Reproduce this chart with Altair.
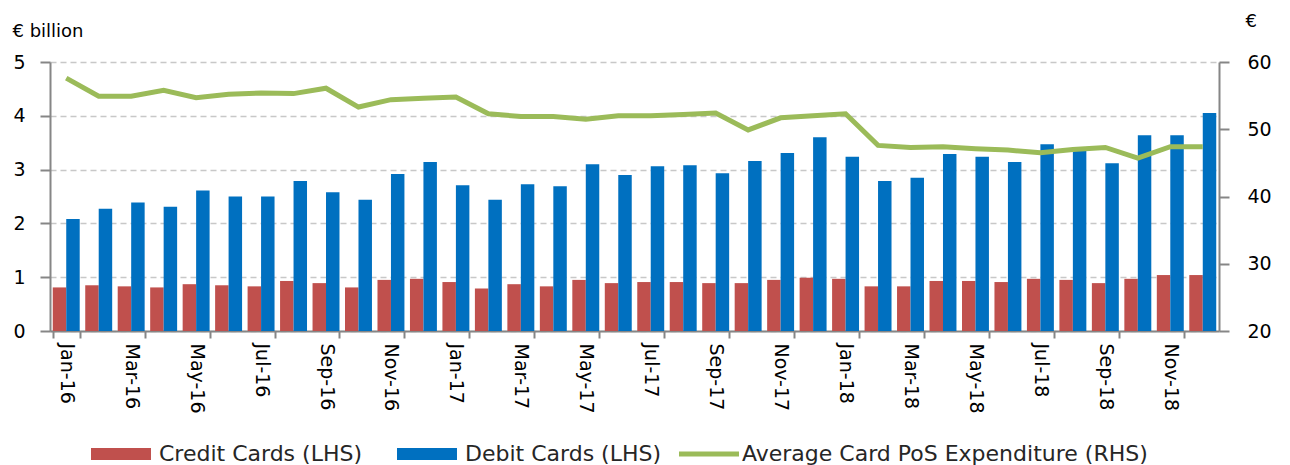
import altair as alt
import pandas as pd

months = ["Jan-16", "Feb-16", "Mar-16", "Apr-16", "May-16", "Jun-16", "Jul-16", "Aug-16", "Sep-16", "Oct-16", "Nov-16", "Dec-16",
          "Jan-17", "Feb-17", "Mar-17", "Apr-17", "May-17", "Jun-17", "Jul-17", "Aug-17", "Sep-17", "Oct-17", "Nov-17", "Dec-17",
          "Jan-18", "Feb-18", "Mar-18", "Apr-18", "May-18", "Jun-18", "Jul-18", "Aug-18", "Sep-18", "Oct-18", "Nov-18", "Dec-18"]

credit = [0.81, 0.85, 0.83, 0.81, 0.87, 0.85, 0.83, 0.93, 0.89, 0.81, 0.95, 0.97,
          0.91, 0.79, 0.87, 0.83, 0.95, 0.89, 0.91, 0.91, 0.89, 0.89, 0.95, 0.99,
          0.97, 0.83, 0.83, 0.93, 0.93, 0.91, 0.97, 0.95, 0.89, 0.97, 1.04, 1.04]

debit = [2.08, 2.27, 2.39, 2.31, 2.61, 2.50, 2.50, 2.79, 2.58, 2.44, 2.92, 3.14,
         2.71, 2.44, 2.73, 2.69, 3.10, 2.90, 3.06, 3.08, 2.93, 3.16, 3.31, 3.60,
         3.24, 2.79, 2.85, 3.29, 3.24, 3.14, 3.47, 3.37, 3.12, 3.64, 3.64, 4.05]

avg_spend = [57.6, 54.9, 54.9, 55.8, 54.7, 55.2, 55.4, 55.3, 56.1, 53.3, 54.4, 54.6,
             54.8, 52.3, 51.9, 51.9, 51.5, 52.0, 52.0, 52.2, 52.4, 49.9, 51.7, 52.0,
             52.3, 47.6, 47.3, 47.4, 47.1, 46.9, 46.5, 47.0, 47.3, 45.7, 47.4, 47.4]

bar_series = ["Credit Cards (LHS)", "Debit Cards (LHS)"]
line_series = "Average Card PoS Expenditure (RHS)"
left_ticks = [0, 1, 2, 3, 4, 5]
right_ticks = [20, 30, 40, 50, 60]

bars_df = pd.DataFrame({
    "month": months * 2,
    "series": [bar_series[0]] * len(months) + [bar_series[1]] * len(months),
    "value": credit + debit,
})
line_df = pd.DataFrame({"month": months, "avg": avg_spend, "series": [line_series] * len(months)})

AX = "#868686"
FONT = "DejaVu Sans"
rect_path = "M-1,-0.857L7.57,-0.857L7.57,0.857L-1,0.857Z"
line_path = "M-1,0L7.57,0"

x_enc = alt.X(
    "month:N", sort=months,
    scale=alt.Scale(paddingInner=0.17, paddingOuter=0.085),
    axis=alt.Axis(title=None, values=months[::2], tickBand="extent", labelAngle=90,
                  labelAlign="left", labelBaseline="middle", labelFont=FONT, labelFontSize=19,
                  labelColor="#000000", labelPadding=5, tickSize=7, tickColor=AX, tickWidth=2,
                  domainColor=AX, domainWidth=2, grid=False),
)

bars = alt.Chart(bars_df).mark_bar().encode(
    x=x_enc,
    xOffset=alt.XOffset("series:N", sort=bar_series, scale=alt.Scale(paddingInner=0, paddingOuter=0)),
    y=alt.Y("value:Q", scale=alt.Scale(domain=[0, 5]),
            axis=alt.Axis(values=left_ticks, title="€ billion", titleAngle=0, titleAlign="left",
                          titleBaseline="middle", titleX=-38, titleY=-31, titleFont=FONT,
                          titleFontSize=18, titleFontWeight="normal", titleColor="#000000",
                          labelFont=FONT, labelFontSize=19, labelColor="#000000", labelPadding=15,
                          tickSize=10, tickColor=AX, tickWidth=2, domainColor=AX, domainWidth=2,
                          grid=True, gridDash=[6, 4], gridColor="#c8c8c8", gridWidth=1.3)),
    color=alt.Color("series:N", sort=bar_series,
                    scale=alt.Scale(domain=bar_series, range=["#C0504D", "#0070C0"]),
                    legend=alt.Legend(title=None, orient="none", legendX=37, legendY=381,
                                      direction="horizontal", symbolType=rect_path, symbolSize=196,
                                      symbolStrokeWidth=0, labelOffset=50, columnPadding=30,
                                      labelLimit=0, labelFont=FONT, labelFontSize=22,
                                      labelColor="#262626")),
)

line = alt.Chart(line_df).mark_line(strokeWidth=5).encode(
    x=x_enc,
    y=alt.Y("avg:Q", scale=alt.Scale(domain=[20, 60]),
            axis=alt.Axis(orient="right", values=right_ticks, title="€", titleAngle=0,
                          titleAlign="left", titleBaseline="middle", titleX=26, titleY=-41,
                          titleFont=FONT, titleFontSize=18, titleFontWeight="normal",
                          titleColor="#000000", labelFont=FONT, labelFontSize=19,
                          labelColor="#000000", labelPadding=18, tickSize=10, tickColor=AX,
                          tickWidth=2, domainColor=AX, domainWidth=2, grid=False)),
    stroke=alt.Stroke("series:N", scale=alt.Scale(domain=[line_series], range=["#9BBB59"]),
                      legend=alt.Legend(title=None, orient="none", legendX=625, legendY=381,
                                        symbolType=line_path, symbolSize=196, symbolStrokeWidth=5,
                                        labelOffset=45, labelLimit=0, labelFont=FONT,
                                        labelFontSize=22, labelColor="#262626")),
)

chart = alt.layer(bars, line).resolve_scale(y="independent").properties(
    width=1169, height=269,
    padding={"left": 4, "top": 4, "right": 0, "bottom": 0},
).configure_view(stroke=None)

chart.save("out.html", embed_options={"renderer": "svg", "actions": False})
